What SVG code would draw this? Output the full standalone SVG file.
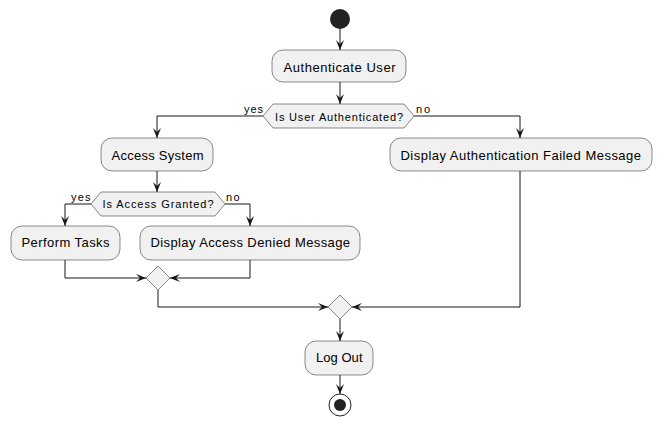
<svg xmlns="http://www.w3.org/2000/svg" width="662" height="426" viewBox="0 0 662 426">
<defs>
<marker id="ah" markerWidth="10" markerHeight="8" refX="10" refY="4" orient="auto" markerUnits="userSpaceOnUse">
<path d="M0,0 L10,4 L0,8 L4,4 Z" fill="#181818"/>
</marker>
<style>
.box{fill:#F1F1F1;stroke:#181818;stroke-width:0.5}
.t{font-family:"Liberation Sans",Arial,sans-serif;font-size:13px;fill:#000}
.s{font-family:"Liberation Sans",Arial,sans-serif;font-size:11px;fill:#000}
.ln{fill:none;stroke:#181818;stroke-width:1;marker-end:url(#ah)}
</style>
</defs>
<rect width="662" height="426" fill="#FFFFFF"/>
<g id="start"><circle cx="340" cy="19" r="10" fill="#222222"/></g>
<g id="authenticate"><rect class="box" x="272" y="50" width="134" height="32" rx="11"/><text class="t" x="283.5" y="71.5" textLength="112" lengthAdjust="spacing">Authenticate User</text></g>
<g id="dec1"><polygon class="box" points="263,116 273,104 404,104 414,116 404,128 273,128"/><text class="s" x="275" y="121" textLength="128" lengthAdjust="spacing">Is User Authenticated?</text></g>
<g id="access"><rect class="box" x="101" y="138" width="112" height="33" rx="11"/><text class="t" x="111.5" y="159.5" textLength="92" lengthAdjust="spacing">Access System</text></g>
<g id="failed"><rect class="box" x="390" y="138" width="262" height="33" rx="11"/><text class="t" x="400.5" y="159.5" textLength="240.5" lengthAdjust="spacing">Display Authentication Failed Message</text></g>
<g id="dec2"><polygon class="box" points="91,204 101,192 215,192 225,204 215,216 101,216"/><text class="s" x="102.5" y="207.5" textLength="111" lengthAdjust="spacing">Is Access Granted?</text></g>
<g id="tasks"><rect class="box" x="11" y="226" width="109" height="34" rx="11"/><text class="t" x="21.5" y="247" textLength="88" lengthAdjust="spacing">Perform Tasks</text></g>
<g id="denied"><rect class="box" x="140" y="226" width="220" height="34" rx="11"/><text class="t" x="150.5" y="247" textLength="199.5" lengthAdjust="spacing">Display Access Denied Message</text></g>
<g id="merge1"><polygon class="box" points="146,278 158,266 170,278 158,290"/></g>
<g id="merge2"><polygon class="box" points="328,307 340,295 352,307 340,319"/></g>
<g id="logout"><rect class="box" x="305" y="341" width="68" height="34" rx="11"/><text class="t" x="316" y="362" textLength="46.5" lengthAdjust="spacing">Log Out</text></g>
<g id="end"><circle cx="340" cy="405" r="11" fill="none" stroke="#222222" stroke-width="1"/><circle cx="340" cy="405" r="6" fill="#222222"/></g>
<g id="connectors">
<path class="ln" d="M340,29 L340,50"/>
<path class="ln" d="M340,82 L340,104"/>
<path class="ln" d="M263,116 L157,116 L157,138"/>
<path class="ln" d="M414,116 L520,116 L520,138"/>
<path class="ln" d="M157,171 L157,192"/>
<path class="ln" d="M91,204 L65,204 L65,226"/>
<path class="ln" d="M225,204 L250,204 L250,226"/>
<path class="ln" d="M65,260 L65,278 L146,278"/>
<path class="ln" d="M250,260 L250,278 L170,278"/>
<path class="ln" d="M158,290 L158,307 L328,307"/>
<path class="ln" d="M520,171 L520,307 L352,307"/>
<path class="ln" d="M340,319 L340,341"/>
<path class="ln" d="M340,375 L340,394"/>
<text class="s" x="244" y="113" textLength="19" lengthAdjust="spacing">yes</text>
<text class="s" x="416" y="113" textLength="14" lengthAdjust="spacing">no</text>
<text class="s" x="71" y="201" textLength="19.5" lengthAdjust="spacing">yes</text>
<text class="s" x="226" y="201" textLength="13.5" lengthAdjust="spacing">no</text>
</g>
</svg>
